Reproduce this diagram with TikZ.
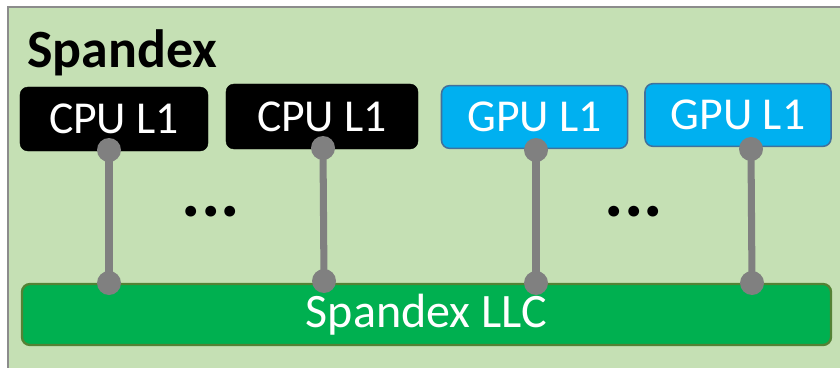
\documentclass[tikz,border=0pt]{standalone}
\usepackage{fontspec}
\setmainfont{Carlito}
\definecolor{bgg}{HTML}{C5E0B4}
\definecolor{frame}{HTML}{8C8C8C}
\definecolor{gpub}{HTML}{00B0F0}
\definecolor{gpubd}{HTML}{41719C}
\definecolor{llcg}{HTML}{00B050}
\definecolor{llcd}{HTML}{548235}
\definecolor{pin}{HTML}{808080}
\tikzset{
  cpubox/.style={fill=black, draw=black, rounded corners=0.24cm, minimum width=5.64cm, minimum height=1.92cm, text=white, font=\fontsize{39}{42}\selectfont, inner sep=0pt},
  gpubox/.style={fill=gpub, draw=gpubd, line width=1.3pt, rounded corners=0.24cm, minimum width=5.58cm, minimum height=1.88cm, text=white, font=\fontsize{39}{42}\selectfont, inner sep=0pt},
  llcbox/.style={fill=llcg, draw=llcd, line width=2pt, rounded corners=0.24cm, minimum width=24.27cm, minimum height=1.83cm, text=white, font=\fontsize{41}{44}\selectfont, inner sep=0pt},
  bus/.style={draw=pin, line width=6pt},
  pindot/.style={fill=pin},
  dotstext/.style={font=\bfseries\fontsize{62}{64}\selectfont, inner sep=0pt}
}
\begin{document}
\begin{tikzpicture}[x=0.03cm,y=-0.03cm]
\useasboundingbox (0,0) rectangle (840,368);
\begin{scope}
\clip (0,0) rectangle (840,368);
\fill[white] (0,0) rectangle (840,368);
\draw[fill=bgg, draw=frame, line width=1.6pt] (8,7) rectangle (860,390);
\end{scope}
\node[anchor=base west, inner sep=0pt, font=\bfseries\fontsize{46}{49}\selectfont] (title) at (27,67) {Spandex};
\node[cpubox] (cpu1) at (114,119) {CPU L1};
\node[cpubox, minimum width=5.76cm, minimum height=1.95cm] (cpu2) at (322,116.5) {CPU L1};
\node[gpubox] (gpu1) at (534.5,117) {GPU L1};
\node[gpubox] (gpu2) at (738,115) {GPU L1};
\node[llcbox] (llc) at (426.5,314.5) {Spandex LLC};
\node[dotstext] (dots1) at (211,212) {...};
\node[dotstext] (dots2) at (634,212) {...};
\coordinate (t1) at (109,150); \coordinate (b1) at (109,283);
\coordinate (t2) at (323,148); \coordinate (b2) at (324,281);
\coordinate (t3) at (536,150); \coordinate (b3) at (536,283);
\coordinate (t4) at (751,149); \coordinate (b4) at (752,283);
\foreach \i in {1,2,3,4}{
  \draw[bus] (t\i) -- (b\i);
  \fill[pindot] (t\i) circle (0.36cm);
  \fill[pindot] (b\i) circle (0.36cm);
}
\end{tikzpicture}
\end{document}
